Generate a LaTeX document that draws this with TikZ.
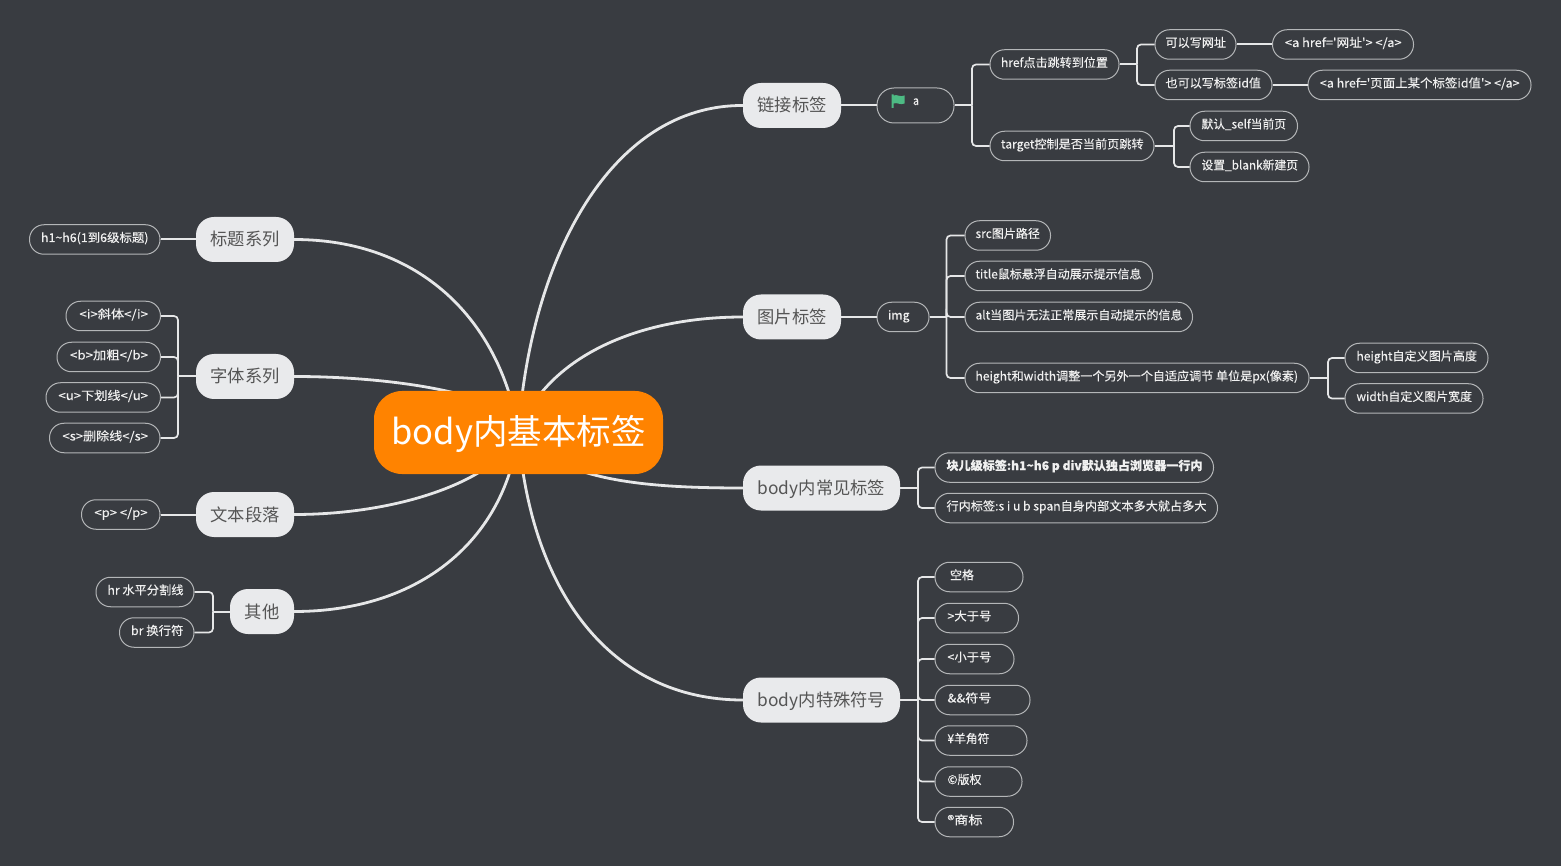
\documentclass[tikz,border=0pt]{standalone}
\usepackage{graphicx}
\usepackage{fontspec}
\newfontfamily\cn{Noto Sans CJK SC}
\newfontfamily\cnb{Noto Sans CJK SC}[FakeBold=0.18]
\pgfdeclarelayer{bg}
\pgfsetlayers{bg,main}
\definecolor{bgc}{HTML}{393C41}
\definecolor{leafline}{HTML}{B4B6B8}
\definecolor{wire}{HTML}{E6E7E8}
\definecolor{mainfill}{HTML}{E9EAEC}
\definecolor{maintext}{HTML}{555555}
\definecolor{rootfill}{HTML}{FF8300}
\definecolor{flagc}{HTML}{4DBB84}
\tikzset{
  leaf/.style={draw=leafline,line width=1pt,fill=bgc,rounded corners=14.5pt,minimum height=29.5pt,inner sep=0pt,text=white!94!black,font=\cnb\fontsize{12}{14}\selectfont,text height=8.5pt,text depth=3.5pt},
  tall/.style={minimum height=35pt,rounded corners=17pt},
  mainbox/.style={fill=mainfill,rounded corners=18pt,minimum height=45pt,inner sep=0pt,text=maintext,font=\cn\fontsize{17.3}{20}\selectfont,text height=15pt,text depth=2pt},
  rootbox/.style={fill=rootfill,rounded corners=28pt,minimum width=289pt,minimum height=83pt,inner sep=0pt,text=white,font=\cn\fontsize{34.5}{40}\selectfont,text height=30pt,text depth=6pt},
  trunk/.style={draw=wire,line width=2.8pt},
  branch/.style={draw=wire,line width=2pt},
  elbow/.style={draw=wire,line width=1.7pt,rounded corners=4pt}
}
% name, box left, box right, centre y, text left, text right, text
\newcommand\leaf[7]{\pgfmathsetmacro\lw{#3-#2}\pgfmathsetmacro\lc{(#3+#2)/2}\pgfmathsetmacro\lo{#5-#2}\pgfmathsetmacro\lt{#6-#5}\node[leaf,minimum width=\lw pt] (#1) at (\lc,#4) {\makebox[\lw pt][l]{\hspace{\lo pt}\resizebox{\lt pt}{\height}{#7}}};}
\newcommand\mainn[5]{\pgfmathsetmacro\lw{#3-#2}\pgfmathsetmacro\lc{(#3+#2)/2}\node[mainbox,minimum width=\lw pt] (#1) at (\lc,#4) {#5};}
% parent east to children west through a spine
\newcommand\rbr[3]{\draw[branch] (#1.east) -- (#3,0 |- #1.east);\draw[elbow] (#3,0 |- #1.east) -- (#3,0 |- #2.west) -- (#2.west);}
\newcommand\lbr[3]{\draw[branch] (#1.west) -- (#3,0 |- #1.west);\draw[elbow] (#3,0 |- #1.west) -- (#3,0 |- #2.east) -- (#2.east);}
\begin{document}
\begin{tikzpicture}[x=1pt,y=-1pt]
\useasboundingbox (0,0) rectangle (1561,866);
\begin{pgfonlayer}{bg}
\fill[bgc] (0,0) rectangle (1561,866);
\end{pgfonlayer}
\node[rootbox] (root) at (518.5,432.5) {body内基本标签};
\coordinate (rz) at (455,393);
\mainn{lian}{743}{841}{105.5}{链接标签}
\mainn{tu}{743}{841}{317}{图片标签}
\mainn{chang}{743}{900}{488}{body内常见标签}
\mainn{te}{743}{900}{700}{body内特殊符号}
\mainn{biao}{196}{294}{239.5}{标题系列}
\mainn{zi}{196}{294}{376.5}{字体系列}
\mainn{wen}{196}{294}{514.5}{文本段落}
\mainn{qi}{230}{294}{611.5}{其他}
\begin{pgfonlayer}{bg}
\draw[trunk] (root.center) .. controls (530,260) and (610,105) .. (lian.west);
\draw[trunk] (root.center) .. controls (544,362) and (630,317) .. (tu.west);
\draw[trunk] (root.center) .. controls (560,480) and (640,488) .. (chang.west);
\draw[trunk] (root.center) .. controls (530,590) and (610,700) .. (te.west);
\draw[trunk] (root.center) .. controls (500,320) and (420,239.5) .. (biao.east);
\draw[trunk] (rz) .. controls (410,382) and (350,376.5) .. (zi.east);
\draw[trunk] (root.center) .. controls (498,480) and (400,514.5) .. (wen.east);
\draw[trunk] (root.center) .. controls (505,540) and (420,611.5) .. (qi.east);
\end{pgfonlayer}
% link branch
\begin{scope}[leaf/.append style={tall}]
\leaf{a}{877}{954}{105.5}{913}{919}{\raisebox{3pt}{a}}
\end{scope}
\fill[flagc] (891.5,94.5) -- (893.5,94.5) -- (893.5,95.5) .. controls (897,94) and (900,97.5) .. (904.5,95.5) -- (904.5,103.5) .. controls (900,105.5) and (897,102) .. (893.5,103.5) -- (893.5,108) -- (891.5,108) -- cycle;
\leaf{href}{990}{1119}{64.5}{1001}{1108}{href点击跳转到位置}
\leaf{target}{990}{1154}{146}{1001}{1143.5}{target控制是否当前页跳转}
\leaf{kyw}{1155}{1236}{44.5}{1165.5}{1226}{可以写网址}
\leaf{kyb}{1155}{1272}{85}{1165.5}{1261}{也可以写标签id值}
\leaf{awz}{1272.5}{1413.5}{44.5}{1285}{1401.5}{<a href='网址'> </a>}
\leaf{aid}{1308}{1531}{85}{1320}{1519.5}{<a href='页面上某个标签id值'> </a>}
\leaf{mr}{1190}{1297.5}{126}{1201.5}{1286}{默认\_self当前页}
\leaf{sz}{1190}{1309}{167}{1201.5}{1298}{设置\_blank新建页}
% image branch
\leaf{img}{877}{929}{317}{888}{909.5}{img}
\leaf{src}{965}{1050.5}{235.5}{975.5}{1040}{src图片路径}
\leaf{title}{965}{1152.5}{276}{975.5}{1141.5}{title鼠标悬浮自动展示提示信息}
\leaf{alt}{965}{1192.5}{317}{975.5}{1182.5}{alt当图片无法正常展示自动提示的信息}
\leaf{hw}{965}{1309}{378}{975.5}{1298}{height和width调整一个另外一个自适应调节 单位是px(像素)}
\leaf{hz}{1345}{1488}{358}{1356.5}{1477}{height自定义图片高度}
\leaf{wz}{1345}{1483}{398.5}{1356.5}{1472}{width自定义图片宽度}
% common tags
\leaf{kuai}{935}{1213.5}{467.5}{946.5}{1202.5}{\bfseries 块儿级标签:h1\textasciitilde h6 p div默认独占浏览器一行内}
\leaf{hang}{935}{1217.5}{508}{946.5}{1206.5}{行内标签:s i u b span自身内部文本多大就占多大}
% symbols
\leaf{kg}{935}{1023}{577}{950}{974}{空格}
\leaf{dy}{935}{1018.5}{618}{947.5}{991.5}{>大于号}
\leaf{xy}{935}{1014}{659}{947.5}{991.5}{<小于号}
\leaf{and}{935}{1030}{700}{947.5}{991.5}{\&\&符号}
\leaf{yen}{935}{1027}{740.5}{947.5}{989.5}{¥羊角符}
\leaf{cp}{935}{1022}{781.5}{947.5}{981.5}{©版权}
\leaf{rg}{935}{1013.5}{822}{947.5}{982.5}{®商标}
% left
\leaf{h}{29.5}{160}{239.5}{41}{148.5}{h1\textasciitilde h6(1到6级标题)}
\leaf{i}{66}{160.5}{316}{79.5}{148}{<i>斜体</i>}
\leaf{b}{57}{160.5}{357}{70}{148}{<b>加粗</b>}
\leaf{u}{46}{160.5}{397.5}{58.5}{148}{<u>下划线</u>}
\leaf{s}{49.5}{160}{438}{62.5}{148}{<s>删除线</s>}
\leaf{p}{81.5}{160}{514.5}{94.5}{147.5}{<p> </p>}
\leaf{hr}{96}{194}{592}{107.5}{183.5}{hr 水平分割线}
\leaf{br}{119.5}{194}{632.5}{131}{183.5}{br 换行符}
% connectors
\draw[branch] (lian.east) -- (a.west);
\draw[branch] (tu.east) -- (img.west);
\rbr{a}{href}{972}\rbr{a}{target}{972}
\rbr{href}{kyw}{1137}\rbr{href}{kyb}{1137}
\draw[branch] (kyw.east) -- (awz.west);
\draw[branch] (kyb.east) -- (aid.west);
\rbr{target}{mr}{1174}\rbr{target}{sz}{1174}
\rbr{img}{src}{946.5}\rbr{img}{title}{946.5}\rbr{img}{alt}{946.5}\rbr{img}{hw}{946.5}
\rbr{hw}{hz}{1328}\rbr{hw}{wz}{1328}
\rbr{chang}{kuai}{918}\rbr{chang}{hang}{918}
\rbr{te}{kg}{918}\rbr{te}{dy}{918}\rbr{te}{xy}{918}\rbr{te}{and}{918}\rbr{te}{yen}{918}\rbr{te}{cp}{918}\rbr{te}{rg}{918}
\draw[branch] (biao.west) -- (h.east);
\draw[branch] (wen.west) -- (p.east);
\lbr{zi}{i}{178}\lbr{zi}{b}{178}\lbr{zi}{u}{178}\lbr{zi}{s}{178}
\lbr{qi}{hr}{213}\lbr{qi}{br}{213}
\end{tikzpicture}
\end{document}
